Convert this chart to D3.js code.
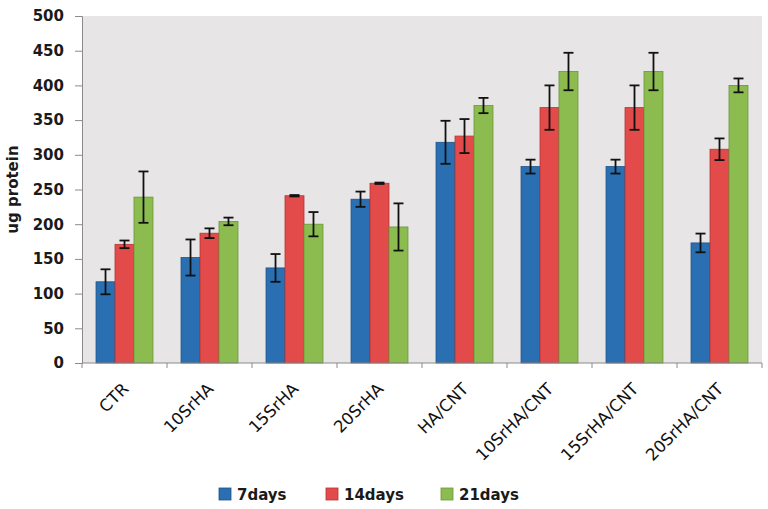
<!DOCTYPE html>
<html>
<head>
<meta charset="utf-8">
<script src="https://cdn.jsdelivr.net/npm/d3@7"></script>
<style>
  html, body { margin: 0; padding: 0; background: #ffffff; }
  svg { display: block; }
</style>
</head>
<body>
<svg id="chart" width="768" height="509"></svg>
<script>
const categories = ["CTR", "10SrHA", "15SrHA", "20SrHA", "HA/CNT", "10SrHA/CNT", "15SrHA/CNT", "20SrHA/CNT"];
const seriesNames = ["7days", "14days", "21days"];
const values7 = [117, 152, 137, 236, 318, 283, 283, 173];
const values14 = [171, 187, 241, 259, 327, 368, 368, 308];
const values21 = [239, 204, 200, 196, 371, 420, 420, 400];
const errors7 = [18, 26, 20, 11, 31, 10, 10, 13.5];
const errors14 = [5.5, 7, 1, 1, 24.5, 32, 32, 15.6];
const errors21 = [37, 5.5, 17.5, 34, 11, 27, 27, 10];
const yTicks = [0, 50, 100, 150, 200, 250, 300, 350, 400, 450, 500];
const yLabel = "ug protein";

const fills = ["#2a6fb2", "#e34a4a", "#8cbc4f"];
const strokes = ["#1d5389", "#b33636", "#6a9437"];

const allValues = [values7, values14, values21];
const allErrors = [errors7, errors14, errors21];

const svg = d3.select("#chart");
const margin = { left: 82, right: 6, top: 16, bottom: 146 };
const W = 768, H = 509;
const plotW = W - margin.left - margin.right;
const plotH = H - margin.top - margin.bottom;

const g = svg.append("g").attr("transform", `translate(${margin.left},${margin.top})`);

g.append("rect").attr("x", 0).attr("y", 0).attr("width", plotW).attr("height", plotH)
  .attr("fill", "#e7e5e5");

const x0 = d3.scaleBand().domain(categories).range([0, plotW]).paddingInner(0.33).paddingOuter(0.165);
const x1 = d3.scaleBand().domain(seriesNames).range([0, x0.bandwidth()]).padding(0);
const y = d3.scaleLinear().domain([0, 500]).range([plotH, 0]);

const data = [];
categories.forEach((c, i) => {
  seriesNames.forEach((s, j) => {
    data.push({ cat: c, series: s, j: j, v: allValues[j][i], e: allErrors[j][i] });
  });
});

// bars
g.selectAll("rect.bar").data(data).enter().append("rect")
  .attr("class", "bar")
  .attr("x", d => x0(d.cat) + x1(d.series))
  .attr("y", d => y(d.v))
  .attr("width", x1.bandwidth())
  .attr("height", d => y(0) - y(d.v))
  .attr("fill", d => fills[d.j])
  .attr("stroke", d => strokes[d.j])
  .attr("stroke-width", 0.8);

// error bars
const capW = 5;
const eg = g.selectAll("g.err").data(data).enter().append("g").attr("class", "err")
  .attr("stroke", "#111").attr("stroke-width", 1.8);
eg.append("line")
  .attr("x1", d => x0(d.cat) + x1(d.series) + x1.bandwidth() / 2)
  .attr("x2", d => x0(d.cat) + x1(d.series) + x1.bandwidth() / 2)
  .attr("y1", d => y(d.v + d.e)).attr("y2", d => y(d.v - d.e));
eg.append("line")
  .attr("x1", d => x0(d.cat) + x1(d.series) + x1.bandwidth() / 2 - capW)
  .attr("x2", d => x0(d.cat) + x1(d.series) + x1.bandwidth() / 2 + capW)
  .attr("y1", d => y(d.v + d.e)).attr("y2", d => y(d.v + d.e));
eg.append("line")
  .attr("x1", d => x0(d.cat) + x1(d.series) + x1.bandwidth() / 2 - capW)
  .attr("x2", d => x0(d.cat) + x1(d.series) + x1.bandwidth() / 2 + capW)
  .attr("y1", d => y(d.v - d.e)).attr("y2", d => y(d.v - d.e));

// y axis
const yAxis = g.append("g").call(d3.axisLeft(y).tickValues(yTicks).tickSize(7).tickPadding(11));
yAxis.select(".domain").attr("stroke", "#8a8a8a");
yAxis.selectAll(".tick line").attr("stroke", "#8a8a8a");
yAxis.selectAll(".tick text")
  .attr("font-family", "'DejaVu Sans', sans-serif")
  .attr("font-weight", "bold")
  .attr("font-size", 15)
  .attr("fill", "#1a1a1a");

// x axis
const xAxis = g.append("g").attr("transform", `translate(0,${plotH})`);
xAxis.append("line").attr("x1", 0).attr("x2", plotW).attr("y1", 0).attr("y2", 0).attr("stroke", "#8a8a8a");
const boundaries = d3.range(categories.length + 1).map(i => i * x0.step());
xAxis.selectAll("line.tk").data(boundaries).enter().append("line")
  .attr("class", "tk")
  .attr("x1", d => d).attr("x2", d => d).attr("y1", 0).attr("y2", 5)
  .attr("stroke", "#8a8a8a");
xAxis.selectAll("text.lbl").data(categories).enter().append("text")
  .attr("class", "lbl")
  .attr("transform", d => `translate(${x0(d) + x0.bandwidth() / 2 + 5},${27}) rotate(-45)`)
  .attr("text-anchor", "end")
  .attr("font-family", "'DejaVu Sans', sans-serif")
  .attr("font-size", 16.5)
  .attr("fill", "#111")
  .text(d => d);

// y label
svg.append("text")
  .attr("transform", `translate(18,${margin.top + plotH / 2}) rotate(-90)`)
  .attr("text-anchor", "middle")
  .attr("font-family", "'DejaVu Sans', sans-serif")
  .attr("font-weight", "bold")
  .attr("font-size", 15)
  .attr("fill", "#1a1a1a")
  .text(yLabel);

// legend
const legendX = [219, 326, 441];
const lg = svg.append("g").attr("transform", "translate(0,488)");
seriesNames.forEach((s, j) => {
  const item = lg.append("g").attr("transform", `translate(${legendX[j]},0)`);
  item.append("rect").attr("x", 0).attr("y", 0).attr("width", 12).attr("height", 12)
    .attr("fill", fills[j]).attr("stroke", strokes[j]).attr("stroke-width", 0.8);
  item.append("text").attr("x", 18).attr("y", 12)
    .attr("font-family", "'DejaVu Sans', sans-serif")
    .attr("font-weight", "bold")
    .attr("font-size", 15)
    .attr("fill", "#1a1a1a")
    .text(s);
});
</script>
</body>
</html>
